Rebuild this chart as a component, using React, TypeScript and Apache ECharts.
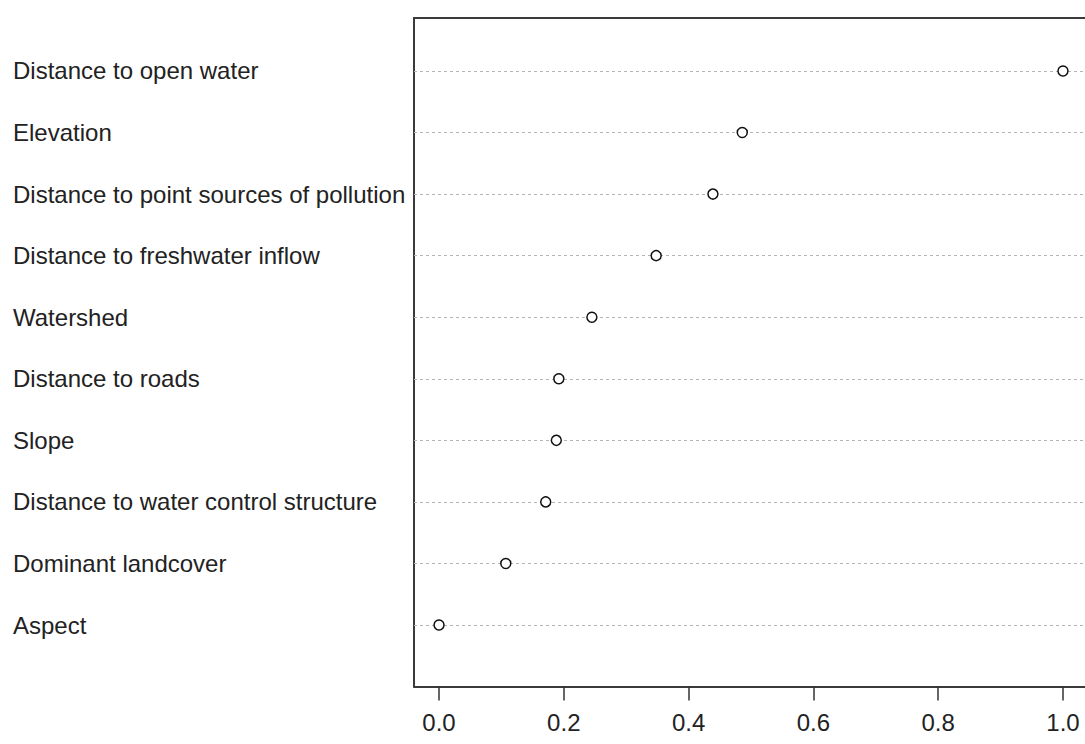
import React, { useEffect, useRef } from "react";
import * as echarts from "echarts";

const categories: string[] = [
  "Distance to open water",
  "Elevation",
  "Distance to point sources of pollution",
  "Distance to freshwater inflow",
  "Watershed",
  "Distance to roads",
  "Slope",
  "Distance to water control structure",
  "Dominant landcover",
  "Aspect",
];

const importance: number[] = [1.0, 0.486, 0.439, 0.348, 0.245, 0.192, 0.188, 0.171, 0.107, 0.0];

const xTicks: number[] = [0, 0.2, 0.4, 0.6, 0.8, 1.0];

const FONT = "'Liberation Sans', Arial, Helvetica, sans-serif";

export default function App() {
  const ref = useRef<HTMLDivElement>(null);

  useEffect(() => {
    if (!ref.current) return;
    const chart = echarts.init(ref.current, undefined, { renderer: "svg" });
    const n = categories.length;
    const rowPos = categories.map((_, i) => n - i);
    const points = importance.map((v, i) => [v, rowPos[i]]);
    const xMin = -0.0401;
    const xMax = 1.0353;
    const frame = { show: true, lineStyle: { color: "#3a3a3a", width: 2 } };

    chart.setOption({
      animation: false,
      backgroundColor: "#ffffff",
      grid: {
        left: 414,
        top: 18,
        right: 0,
        height: 668.6,
        show: false,
        containLabel: false,
      },
      xAxis: [
        {
          type: "value",
          min: xMin,
          max: xMax,
          axisLine: { ...frame, onZero: false },
          splitLine: { show: false },
          axisTick: {
            show: true,
            customValues: xTicks,
            length: 14,
            lineStyle: { color: "#333", width: 1.5 },
          },
          axisLabel: {
            show: true,
            customValues: xTicks,
            formatter: (v: number) => v.toFixed(1),
            fontFamily: FONT,
            fontSize: 24,
            color: "#222",
            margin: 24,
          },
        },
        {
          type: "value",
          position: "top",
          min: xMin,
          max: xMax,
          axisLine: { ...frame, onZero: false },
          axisTick: { show: false },
          axisLabel: { show: false },
          splitLine: { show: false },
        },
      ],
      yAxis: {
        type: "value",
        min: 0,
        max: 10.86,
        interval: 1,
        axisLine: { ...frame, onZero: false },
        axisTick: { show: false },
        splitLine: { show: false },
        axisLabel: {
          show: true,
          align: "left",
          margin: 401,
          fontFamily: FONT,
          fontSize: 24,
          color: "#222",
          formatter: (v: number) => {
            const idx = rowPos.indexOf(Math.round(v * 1000) / 1000);
            return idx >= 0 ? categories[idx] : "";
          },
        },
      },
      series: [
        {
          type: "line",
          data: [],
          z: 1,
          silent: true,
          markLine: {
            silent: true,
            symbol: ["none", "none"],
            label: { show: false },
            lineStyle: { color: "#b4b4b4", type: [3, 3], width: 1 },
            data: rowPos.map((r) => ({ yAxis: r })),
          },
        },
        {
          type: "scatter",
          z: 5,
          data: points,
          symbol: "circle",
          symbolSize: 10,
          itemStyle: { color: "#ffffff", borderColor: "#111", borderWidth: 1.5, opacity: 1 },
        },
      ],
    });

    return () => chart.dispose();
  }, []);

  return (
    <div
      ref={ref}
      style={{ position: "absolute", left: 0, top: 0, width: 1085, height: 744 }}
    />
  );
}
